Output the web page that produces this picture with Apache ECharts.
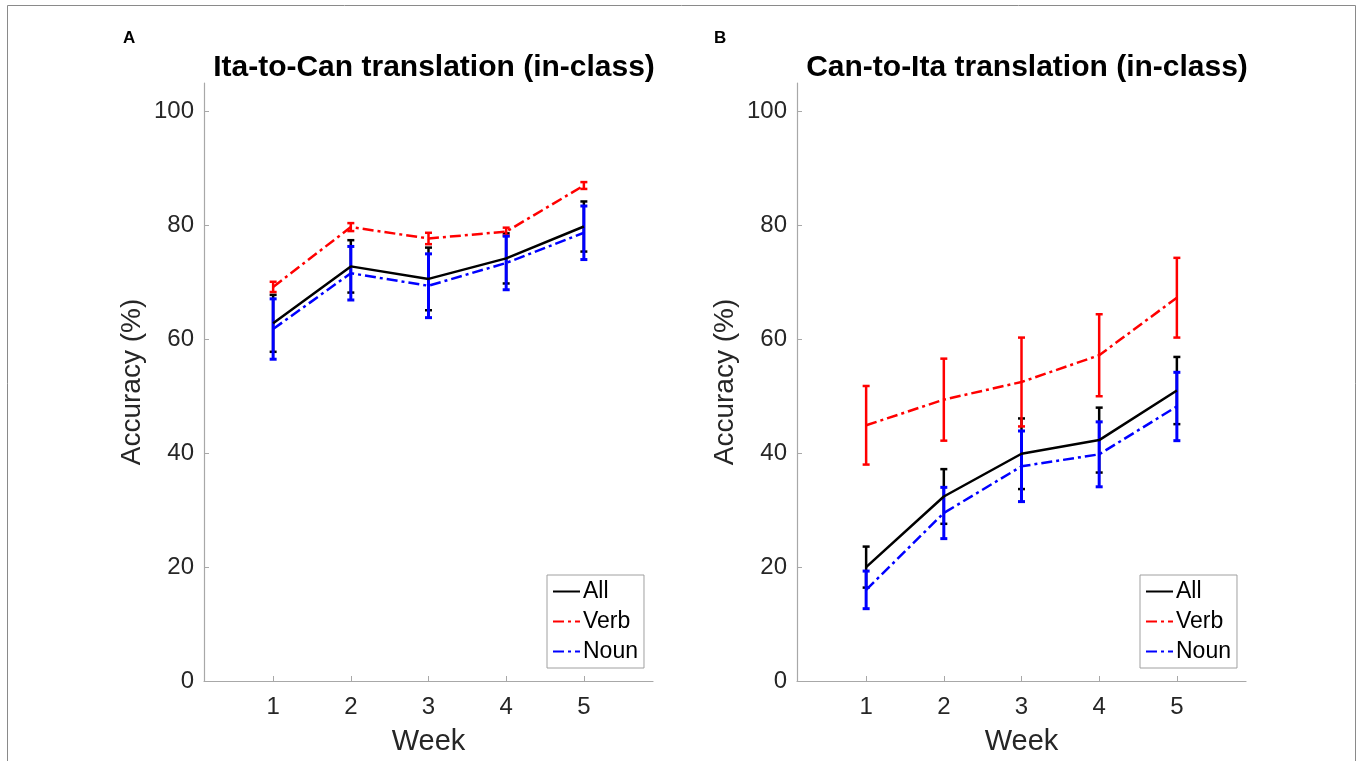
<!DOCTYPE html>
<html>
<head>
<meta charset="utf-8">
<script src="https://cdn.jsdelivr.net/npm/echarts@6/dist/echarts.min.js"></script>
<style>
  html, body { margin: 0; padding: 0; background: #fff; }
  #main { width: 1360px; height: 761px; }
</style>
</head>
<body>
<div id="main"></div>
<script>
// weeks on the x axis
const weeks = [1, 2, 3, 4, 5];
const yTicks = [0, 20, 40, 60, 80, 100];

// panel A: Ita-to-Can
const aAll = [62.8, 72.8, 70.6, 74.2, 79.8];
const aAllErr = [5.0, 4.6, 5.5, 4.4, 4.4];
const aVerb = [69.2, 79.7, 77.7, 78.9, 87.0];
const aVerbErr = [0.9, 0.7, 1.0, 0.7, 0.6];
const aNoun = [61.8, 71.6, 69.4, 73.4, 78.7];
const aNounErr = [5.3, 4.7, 5.6, 4.7, 4.7];

// panel B: Can-to-Ita
const bAll = [20.0, 32.4, 39.9, 42.3, 51.0];
const bAllErr = [3.6, 4.8, 6.2, 5.7, 5.9];
const bVerb = [44.9, 49.4, 52.5, 57.2, 67.3];
const bVerbErr = [6.9, 7.2, 7.8, 7.2, 7.0];
const bNoun = [16.0, 29.5, 37.7, 39.8, 48.2];
const bNounErr = [3.3, 4.5, 6.2, 5.7, 6.0];

const dashDot = [11, 4, 3, 4];
const font = 'Liberation Sans, Arial, Helvetica, sans-serif';

const myChart = echarts.init(document.getElementById('main'));

const xAxisBase = (idx) => ({
    type: 'value',
    gridIndex: idx,
    min: 0.11,
    max: 5.89,
    name: 'Week',
    nameLocation: 'middle',
    nameGap: 46,
    nameTextStyle: { fontSize: 29, color: '#262626', fontFamily: font },
    axisLine: { lineStyle: { color: '#a8a8a8', width: 1.2 } },
    axisTick: { inside: true, length: 5, customValues: weeks, lineStyle: { color: '#a8a8a8' } },
    axisLabel: { customValues: weeks, margin: 14, fontSize: 24, color: '#262626', fontFamily: font },
    splitLine: { show: false }
});

const yAxisBase = (idx) => ({
    type: 'value',
    gridIndex: idx,
    min: 0,
    max: 105,
    name: 'Accuracy (%)',
    nameLocation: 'middle',
    nameGap: 58,
    nameTextStyle: { fontSize: 28, color: '#262626', fontFamily: font },
    axisLine: { show: true, lineStyle: { color: '#a8a8a8', width: 1.2 } },
    axisTick: { show: true, inside: true, length: 5, customValues: yTicks, lineStyle: { color: '#a8a8a8' } },
    axisLabel: { customValues: yTicks, margin: 10, fontSize: 24, color: '#262626', fontFamily: font },
    splitLine: { show: false }
});

const lineSeries = (name, idx, data, color, dashed) => ({
    name: name,
    type: 'line',
    xAxisIndex: idx,
    yAxisIndex: idx,
    data: weeks.map((w, i) => [w, data[i]]),
    symbol: 'none',
    color: color,
    lineStyle: { color: color, width: 2.5, type: dashed ? dashDot : 'solid' },
    z: 3
});

// error bars drawn with custom series
const errSeries = (name, idx, mean, err, color, width) => ({
    name: name + ' err',
    type: 'custom',
    xAxisIndex: idx,
    yAxisIndex: idx,
    data: weeks.map((w, i) => [w, mean[i], err[i]]),
    z: 3,
    renderItem: function (params, api) {
        const x = api.value(0), m = api.value(1), e = api.value(2);
        const top = api.coord([x, m + e]);
        const bot = api.coord([x, m - e]);
        const hw = 3.5;
        const style = { stroke: color, lineWidth: width };
        return {
            type: 'group',
            children: [
                { type: 'line', shape: { x1: top[0], y1: top[1], x2: bot[0], y2: bot[1] }, style: style },
                { type: 'line', shape: { x1: top[0] - hw, y1: top[1], x2: top[0] + hw, y2: top[1] }, style: style },
                { type: 'line', shape: { x1: bot[0] - hw, y1: bot[1], x2: bot[0] + hw, y2: bot[1] }, style: style }
            ]
        };
    }
});

const legendBase = (left) => ({
    orient: 'vertical',
    left: left,
    top: 575,
    data: ['All', 'Verb', 'Noun'],
    backgroundColor: '#fff',
    borderColor: '#a0a0a0',
    borderWidth: 1,
    borderRadius: 0,
    padding: [5, 6, 5, 5],
    itemGap: 7,
    itemWidth: 27,
    itemHeight: 14,
    selectedMode: false,
    itemStyle: { opacity: 0 },
    textStyle: { fontSize: 23, color: '#000', fontFamily: font, padding: [0, 0, 0, -2] }
});

myChart.setOption({
    animation: false,
    backgroundColor: '#fff',
    title: [
        { text: 'A', left: 118, top: 25, textStyle: { fontSize: 17, fontWeight: 'bold', color: '#000', fontFamily: font } },
        { text: 'B', left: 709, top: 25, textStyle: { fontSize: 17, fontWeight: 'bold', color: '#000', fontFamily: font } },
        { text: 'Ita-to-Can translation (in-class)', left: 429, top: 48, textAlign: 'center',
          textStyle: { fontSize: 30, fontWeight: 'bold', color: '#000', fontFamily: font } },
        { text: 'Can-to-Ita translation (in-class)', left: 1022, top: 48, textAlign: 'center',
          textStyle: { fontSize: 30, fontWeight: 'bold', color: '#000', fontFamily: font } }
    ],
    grid: [
        { left: 204, top: 83, width: 449, height: 598 },
        { left: 797, top: 83, width: 449, height: 598 }
    ],
    xAxis: [xAxisBase(0), xAxisBase(1)],
    yAxis: [yAxisBase(0), yAxisBase(1)],
    legend: [legendBase(547), legendBase(1140)],
    graphic: [
        { type: 'rect', shape: { x: 7.5, y: 5.5, width: 1348, height: 760 },
          style: { fill: 'none', stroke: '#8a8a8a', lineWidth: 1 }, silent: true }
    ],
    series: [
        errSeries('All', 0, aAll, aAllErr, '#000', 2.5),
        lineSeries('All', 0, aAll, '#000', false),
        errSeries('Verb', 0, aVerb, aVerbErr, '#ff0000', 2.5),
        lineSeries('Verb', 0, aVerb, '#ff0000', true),
        errSeries('Noun', 0, aNoun, aNounErr, '#0000ff', 3),
        lineSeries('Noun', 0, aNoun, '#0000ff', true),

        errSeries('All', 1, bAll, bAllErr, '#000', 2.5),
        lineSeries('All', 1, bAll, '#000', false),
        errSeries('Verb', 1, bVerb, bVerbErr, '#ff0000', 2.5),
        lineSeries('Verb', 1, bVerb, '#ff0000', true),
        errSeries('Noun', 1, bNoun, bNounErr, '#0000ff', 3),
        lineSeries('Noun', 1, bNoun, '#0000ff', true)
    ]
});

window.addEventListener('resize', () => {
    myChart.resize();
});
</script>
</body>
</html>
